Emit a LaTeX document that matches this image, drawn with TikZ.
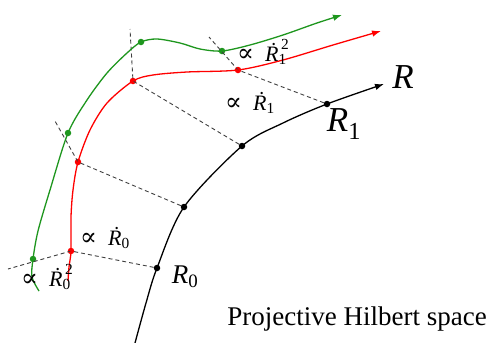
\documentclass[tikz,border=0pt]{standalone}
\usepackage{fontspec}
\setmainfont{Liberation Serif}
\newfontfamily\symfont{DejaVu Serif}
\usetikzlibrary{arrows.meta}
\definecolor{curvegreen}{RGB}{30,150,30}
\newcommand{\prop}{{\symfont\fontsize{25}{25}\selectfont\char"221D}}
\newcommand{\Rdot}[1]{\textit{\.{R}}\textsubscript{#1}}
\newcommand{\Rdotsq}[1]{\textit{\.{R}}\rlap{\textsubscript{#1}}\raisebox{0.2em}{\textsuperscript{\,2}}}

\begin{document}
\begin{tikzpicture}[
  x=1pt,y=-1pt,
  >={Latex[length=9pt,width=6.5pt]},
  spot/.style={circle,fill,inner sep=0pt,minimum size=6.5pt},
  curve/.style={line width=1.3pt,->},
  proj/.style={draw=black!75,dash pattern=on 4pt off 3pt,line width=0.9pt},
  lab/.style={inner sep=0pt,anchor=west,font=\fontsize{22}{24}\selectfont}
]
\useasboundingbox (0,0) rectangle (488,343);

% points on the three curves
\node[spot] (b0) at (157,268) {};
\node[spot] (b1) at (184,207) {};
\node[spot] (b2) at (242,146) {};
\node[spot] (b3) at (327,104) {};
\node[spot,red] (r0) at (71,251) {};
\node[spot,red] (r1) at (78,162) {};
\node[spot,red] (r2) at (133,81) {};
\node[spot,red] (r3) at (238,70) {};
\node[spot,curvegreen] (g0) at (33,259) {};
\node[spot,curvegreen] (g1) at (68,133) {};
\node[spot,curvegreen] (g2) at (141,42) {};
\node[spot,curvegreen] (g3) at (222,51) {};

\coordinate (bs) at (135,343);
\coordinate (be) at (384,84);
\coordinate (rs) at (68,281);
\coordinate (re) at (381,31);
\coordinate (gs) at (39,291);
\coordinate (ge) at (342,15);
\coordinate (e0) at (8,269);
\coordinate (e1) at (55,121);
\coordinate (e2) at (130,29);
\coordinate (e3) at (209,37);

\draw[proj] (b0) -- (r0.center) -- (e0);
\draw[proj] (b1) -- (r1.center) -- (e1);
\draw[proj] (b2) -- (r2.center) -- (e2);
\draw[proj] (b3) -- (r3.center) -- (e3);

\draw[curve] plot[smooth] coordinates
  {(bs) (146,303) (b0.center) (b1.center) (b2.center) (283,123) (b3.center) (be)};
\draw[curve,red] plot[smooth] coordinates
  {(rs) (69,267) (r0.center) (71,217) (73,190) (r1.center) (90,130) (107,103)
   (r2.center) (153,75) (187,72) (r3.center) (283,60) (333,45) (re)};
\draw[curve,curvegreen] plot[smooth] coordinates
  {(gs) (32,277) (g0.center) (38,231) (50,190) (g1.center) (87,100)
   (107,73) (127,53) (g2.center) (157,39) (180,43) (200,49) (g3.center)
   (250,45) (283,35) (317,23) (ge)};

\node[lab] (l3) at (237,52) {\prop\hspace{0.5em}\Rdotsq{1}};
\node[lab] (l2) at (225,103) {\prop\hspace{0.5em}\Rdot{1}};
\node[lab] (l1) at (80,238) {\prop\hspace{0.5em}\Rdot{0}};
\node[lab] (l0) at (21,277) {\prop\hspace{0.5em}\Rdotsq{0}};

\node[font=\fontsize{35}{38}\selectfont\itshape] (rlab) at (403,77) {R};
\node[font=\fontsize{35}{38}\selectfont] (r1lab) at (344,124) {\textit{R}\textsubscript{1}};
\node[font=\fontsize{27}{30}\selectfont] (r0lab) at (185,277) {\textit{R}\textsubscript{0}};
\node[font=\fontsize{27}{30}\selectfont,anchor=base east,inner sep=0pt] (space)
  at (487,325) {Projective Hilbert space};
\end{tikzpicture}
\end{document}
